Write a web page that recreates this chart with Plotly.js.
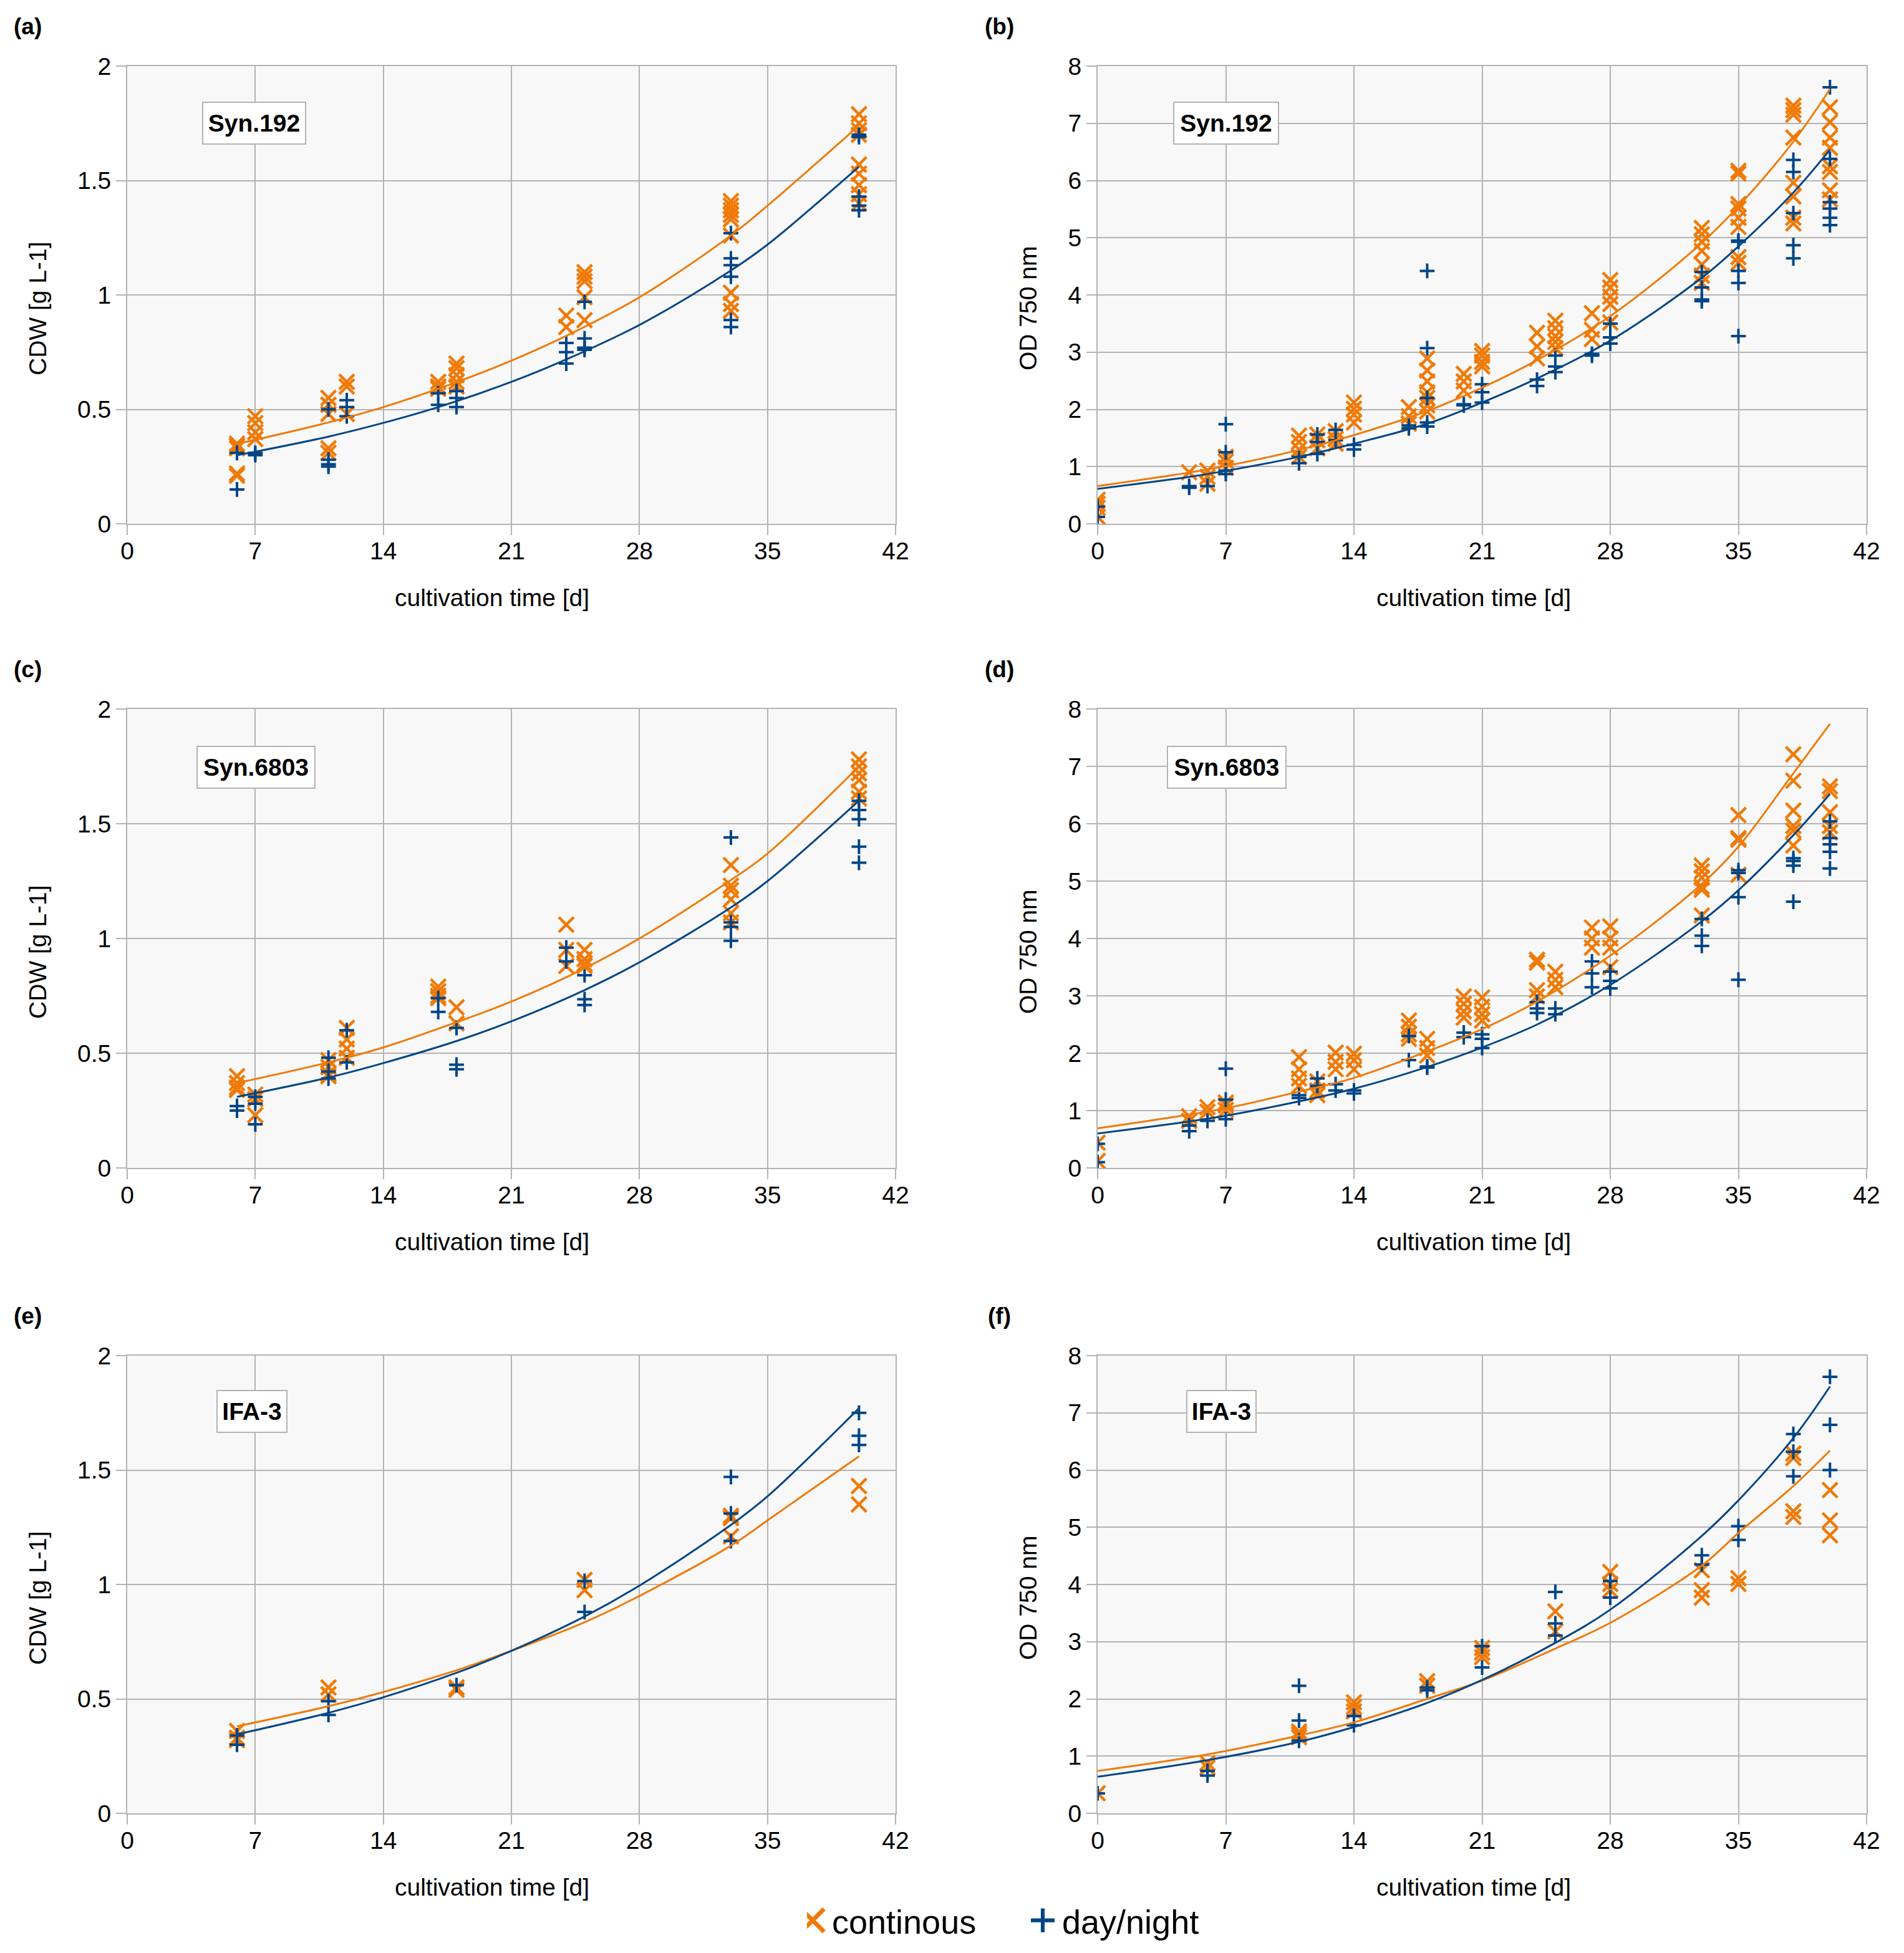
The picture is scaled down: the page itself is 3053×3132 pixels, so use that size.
<!DOCTYPE html>
<html><head><meta charset="utf-8">
<script src="https://cdn.plot.ly/plotly-3.0.1.min.js"></script>
<style>html,body{margin:0;padding:0;background:#fff}</style>
</head><body><div id="chart" style="width:3053px;height:3132px"></div>
<script>
// ---------- DATA ----------
const xTicks = [0, 7, 14, 21, 28, 35, 42];
const seriesNames = ['continous', 'day/night'];
const panelLetters = ['(a)', '(b)', '(c)', '(d)', '(e)', '(f)'];
const strainNames = ['Syn.192', 'Syn.192', 'Syn.6803', 'Syn.6803', 'IFA-3', 'IFA-3'];
const yTitles = ['CDW [g L-1]', 'OD 750 nm'];
const xTitle = 'cultivation time [d]';

// (a) Syn.192 CDW
const aDays = [6, 7, 11, 12, 17, 18, 24, 25, 33, 40];
const aCont = [[0.35,0.34,0.33,0.22,0.21],[0.47,0.44,0.40,0.37],[0.55,0.52,0.48,0.33,0.31],[0.62,0.60,0.48],[0.62,0.60,0.59],[0.70,0.68,0.65,0.62,0.60],[0.91,0.86],[1.10,1.08,1.06,0.99,0.89],[1.41,1.39,1.37,1.35,1.33,1.26,1.01,0.96,0.93],[1.79,1.75,1.72,1.70,1.57,1.53,1.48,1.44,1.40]];
const aDN = [[0.31,0.15],[0.31,0.30],[0.50,0.28,0.26,0.25],[0.54,0.51,0.47],[0.57,0.52],[0.58,0.55,0.51],[0.79,0.75,0.70],[0.97,0.81,0.77,0.76],[1.27,1.16,1.13,1.08,0.89,0.86],[1.70,1.69,1.43,1.39,1.37]];
const aFitContX = [6, 7, 11, 14, 18, 21, 24, 28, 33, 35, 40];
const aFitContY = [0.35, 0.367, 0.443, 0.51, 0.619, 0.713, 0.821, 0.99, 1.26, 1.39, 1.74];
const aFitDNX = [6, 7, 11, 14, 17, 21, 24, 28, 33, 35, 40];
const aFitDNY = [0.30, 0.315, 0.381, 0.441, 0.51, 0.62, 0.718, 0.869, 1.107, 1.22, 1.56];

// (b) Syn.192 OD750
const bDays = [0, 5, 6, 7, 11, 12, 13, 14, 17, 18, 20, 21, 24, 25, 27, 28, 33, 35, 38, 40];
const bCont = [[0.42,0.35,0.28,0.12],[0.90],[0.93,0.82,0.70],[1.17,1.09,0.98],[1.54,1.43,1.30,1.17],[1.56,1.46,1.32],[1.62,1.48,1.40],[2.12,2.01,1.91,1.77],[2.04,1.88,1.75],[2.89,2.68,2.49,2.30,2.20,2.07,1.96],[2.62,2.49,2.33],[3.02,2.94,2.83,2.75],[3.34,3.10,2.89],[3.55,3.42,3.28,3.18,3.07],[3.68,3.39,3.23],[4.26,4.13,3.97,3.84,3.52],[5.17,5.06,4.93,4.77,4.53,4.34,4.21],[6.17,6.12,5.59,5.51,5.35,5.19,4.66,4.56],[7.31,7.23,7.15,6.75,5.96,5.72,5.35,5.25],[7.28,7.02,6.75,6.57,6.25,6.15,5.83,5.67]];
const bDN = [[0.30,0.12],[0.66,0.63],[0.66],[1.74,1.25,0.93,0.87],[1.17,1.06],[1.56,1.43,1.22],[1.64,1.46],[1.38,1.30],[1.72,1.67],[4.42,3.07,2.20,1.77,1.70],[2.09,2.07],[2.44,2.30,2.12],[2.52,2.41],[2.94,2.75,2.65],[2.97,2.94],[3.50,3.26,3.15],[4.40,4.13,3.92,3.89],[4.95,4.93,4.42,4.21,3.28],[6.36,6.15,5.43,4.87,4.64],[7.63,6.38,5.62,5.51,5.35,5.22]];
const bFitX = [0, 5, 7, 11, 14, 18, 21, 24, 28, 33, 35, 38, 40];
const bFitContY = [0.66, 0.895, 1.01, 1.29, 1.55, 1.97, 2.38, 2.86, 3.63, 4.91, 5.55, 6.68, 7.60];
const bFitDNY = [0.61, 0.82, 0.925, 1.17, 1.40, 1.75, 2.12, 2.54, 3.20, 4.30, 4.85, 5.79, 6.54];

// (c) Syn.6803 CDW
const cDays = [6, 7, 11, 12, 17, 18, 24, 25, 33, 40];
const cCont = [[0.40,0.37,0.35,0.34],[0.32,0.30,0.23],[0.47,0.44,0.41,0.40],[0.61,0.56,0.52,0.48],[0.79,0.77,0.75,0.74],[0.70,0.63],[1.06,0.95,0.88],[0.95,0.91,0.89,0.88],[1.32,1.23,1.21,1.17,1.11,1.07],[1.78,1.75,1.72,1.69,1.64,1.61]];
const cDN = [[0.27,0.25],[0.31,0.28,0.19],[0.48,0.42,0.39],[0.60,0.46],[0.74,0.68],[0.61,0.45,0.43],[0.96,0.90],[0.84,0.735,0.71],[1.44,1.07,1.05,0.99],[1.60,1.56,1.52,1.40,1.33]];
const cFitX = [6, 11, 14, 18, 21, 25, 28, 33, 35, 40];
const cFitContY = [0.37, 0.46, 0.525, 0.635, 0.725, 0.87, 1.00, 1.255, 1.37, 1.75];
const cFitDNY = [0.31, 0.394, 0.457, 0.553, 0.639, 0.775, 0.896, 1.135, 1.25, 1.60];

// (d) Syn.6803 OD750
const dDays = [0, 5, 6, 7, 11, 12, 13, 14, 17, 18, 20, 21, 24, 25, 27, 28, 33, 35, 38, 40];
const dCont = [[0.44,0.12],[0.90,0.82],[1.06,0.98],[1.14,1.09,1.01],[1.93,1.72,1.56,1.43],[1.51,1.35,1.27],[2.01,1.85,1.72],[1.99,1.88,1.72],[2.57,2.46,2.33,2.25],[2.25,2.09,1.96],[2.99,2.86,2.73,2.62],[2.97,2.81,2.68,2.57],[3.63,3.58,3.10,2.99],[3.42,3.28,3.15],[4.19,4.00,3.84],[4.21,4.00,3.84,3.50],[5.27,5.17,5.06,4.90,4.85,4.40],[6.15,5.75,5.72,5.11],[7.21,6.75,6.23,5.96,5.88,5.62],[6.65,6.57,6.20,5.96,5.85]];
const dDN = [[0.42,0.10],[0.74,0.64],[0.82],[1.73,1.19,0.85],[1.27,1.22],[1.56,1.43],[1.46,1.35],[1.35,1.30],[2.30,1.88],[1.77,1.75],[2.36,2.28],[2.33,2.25,2.09],[2.89,2.78,2.70],[2.78,2.68],[3.60,3.39,3.15],[3.42,3.26,3.13],[4.34,4.05,3.87],[5.19,5.14,4.72,3.28],[5.40,5.35,5.27,4.64],[6.04,5.75,5.64,5.51,5.22]];
const dFitX = [0, 5, 7, 11, 14, 18, 21, 24, 28, 33, 35, 38, 40];
const dFitContY = [0.69, 0.93, 1.04, 1.33, 1.57, 2.03, 2.42, 2.90, 3.70, 4.95, 5.60, 6.88, 7.74];
const dFitDNY = [0.60, 0.81, 0.91, 1.16, 1.38, 1.76, 2.10, 2.50, 3.19, 4.30, 4.84, 5.80, 6.52];

// (e) IFA-3 CDW
const eDays = [6, 11, 18, 25, 33, 40];
const eCont = [[0.36,0.33,0.32],[0.55,0.52],[0.55,0.54],[1.02,0.975],[1.30,1.29,1.21],[1.43,1.35]];
const eDN = [[0.34,0.30],[0.49,0.43],[0.56],[1.015,0.88],[1.47,1.31,1.19],[1.75,1.65,1.61]];
const eFitX = [6, 11, 14, 18, 21, 25, 28, 33, 35, 40];
const eFitContY = [0.38, 0.468, 0.53, 0.625, 0.71, 0.835, 0.95, 1.17, 1.28, 1.56];
const eFitDNY = [0.345, 0.439, 0.507, 0.614, 0.71, 0.86, 0.995, 1.26, 1.385, 1.77];

// (f) IFA-3 OD750
const fDays = [0, 6, 11, 14, 18, 21, 25, 28, 33, 35, 38, 40];
const fCont = [[0.35],[0.88,0.80],[1.43,1.38,1.33],[1.94,1.86,1.78],[2.31,2.23],[2.89,2.81,2.73],[3.53,3.18],[4.22,4.01,3.90],[4.25,3.90,3.77],[4.11,4.01],[6.29,6.21,5.28,5.18],[5.65,5.12,4.86]];
const fDN = [[0.35],[0.74,0.66],[2.23,1.62,1.27],[1.70,1.54],[2.20,2.15],[2.92,2.55],[3.87,3.32,3.11],[4.06,3.77],[4.51,4.35],[5.02,4.78],[6.63,6.32,5.89],[7.63,6.79,6.00]];
const fFitX = [0, 6, 11, 14, 18, 21, 25, 28, 33, 35, 38, 40];
const fFitContY = [0.74, 1.03, 1.36, 1.59, 2.00, 2.32, 2.88, 3.33, 4.33, 4.90, 5.72, 6.34];
const fFitDNY = [0.64, 0.93, 1.25, 1.51, 1.93, 2.33, 2.98, 3.56, 4.85, 5.47, 6.56, 7.46];

// ---------- STYLE / LAYOUT ----------
const W = 3053, H = 3132;
const ORANGE = '#f07a08', BLUE = '#004586', GRID = '#b3b3b3';
const FONT = 'Liberation Sans, Arial, sans-serif';
const cols = [[204, 1436], [1760, 2993]];
const rows = [[106, 840], [1137, 1873], [2174, 2908]];

function flat(days, vals) {
  const x = [], y = [];
  days.forEach((d, i) => vals[i].forEach(v => { x.push(d); y.push(v); }));
  return {x, y};
}

const panels = [
  {days: aDays, cont: aCont, dn: aDN, fcx: aFitContX, fcy: aFitContY, fdx: aFitDNX, fdy: aFitDNY, ymax: 2},
  {days: bDays, cont: bCont, dn: bDN, fcx: bFitX, fcy: bFitContY, fdx: bFitX, fdy: bFitDNY, ymax: 8},
  {days: cDays, cont: cCont, dn: cDN, fcx: cFitX, fcy: cFitContY, fdx: cFitX, fdy: cFitDNY, ymax: 2},
  {days: dDays, cont: dCont, dn: dDN, fcx: dFitX, fcy: dFitContY, fdx: dFitX, fdy: dFitDNY, ymax: 8},
  {days: eDays, cont: eCont, dn: eDN, fcx: eFitX, fcy: eFitContY, fdx: eFitX, fdy: eFitDNY, ymax: 2},
  {days: fDays, cont: fCont, dn: fDN, fcx: fFitX, fcy: fFitContY, fdx: fFitX, fdy: fFitDNY, ymax: 8}
];

const boxW = [167, 170, 191, 192, 114, 113];
const boxCY = [197, 197, 1230, 1230, 2263, 2263];
const boxCX = [408, 1966, 410, 1967, 404, 1958];

const px = x => x / W, py = y => 1 - y / H;

const traces = [];
const layout = {
  width: W, height: H,
  margin: {l: 0, r: 0, t: 0, b: 0},
  paper_bgcolor: '#ffffff', plot_bgcolor: '#f8f8f8',
  font: {family: FONT, size: 39, color: '#000'},
  showlegend: true,
  legend: {orientation: 'h', x: px(1294), xanchor: 'left', y: py(3080), yanchor: 'middle',
           font: {size: 54, family: FONT, color: '#000'}, bgcolor: 'rgba(0,0,0,0)',
           entrywidth: 324, borderwidth: 0},
  annotations: []
};

panels.forEach((p, i) => {
  const col = i % 2, row = Math.floor(i / 2);
  const sfx = i === 0 ? '' : String(i + 1);
  const xa = 'x' + sfx, ya = 'y' + sfx;
  const axCommon = {
    showgrid: true, gridcolor: GRID, gridwidth: 2,
    showline: true, linecolor: GRID, linewidth: 2, mirror: true,
    ticks: 'outside', ticklen: 16, tickwidth: 2, tickcolor: GRID,
    tickfont: {size: 39, family: FONT, color: '#000'},
    zeroline: false, fixedrange: true
  };
  layout['xaxis' + sfx] = Object.assign({}, axCommon, {
    domain: [px(cols[col][0]), px(cols[col][1])], range: [0, 42],
    tickmode: 'array', tickvals: xTicks, ticktext: xTicks.map(String), anchor: ya,
    ticklabelstandoff: -8
  });
  layout['yaxis' + sfx] = Object.assign({}, axCommon, {
    domain: [py(rows[row][1]), py(rows[row][0])], range: [0, p.ymax],
    dtick: p.ymax === 2 ? 0.5 : 1, tick0: 0, anchor: xa
  });

  const c = flat(p.days, p.cont), d = flat(p.days, p.dn);
  traces.push({type: 'scatter', mode: 'markers', x: c.x, y: c.y, xaxis: xa, yaxis: ya,
    name: seriesNames[0], legendgroup: 'c', showlegend: i === 0,
    marker: {symbol: 'x-thin-open', size: 24, color: ORANGE, line: {color: ORANGE, width: 4.5}}});
  traces.push({type: 'scatter', mode: 'markers', x: d.x, y: d.y, xaxis: xa, yaxis: ya,
    name: seriesNames[1], legendgroup: 'd', showlegend: i === 0,
    marker: {symbol: 'cross-thin-open', size: 17, color: BLUE, line: {color: BLUE, width: 4}}});
  traces.push({type: 'scatter', mode: 'lines', x: p.fcx, y: p.fcy, xaxis: xa, yaxis: ya,
    showlegend: false, hoverinfo: 'skip', line: {color: ORANGE, width: 3, shape: 'spline', smoothing: 1}});
  traces.push({type: 'scatter', mode: 'lines', x: p.fdx, y: p.fdy, xaxis: xa, yaxis: ya,
    showlegend: false, hoverinfo: 'skip', line: {color: BLUE, width: 3, shape: 'spline', smoothing: 1}});

  // panel letter
  layout.annotations.push({xref: 'paper', yref: 'paper', x: px(col === 0 ? 44 : 1602), y: py(rows[row][0] - 64),
    xanchor: 'center', yanchor: 'middle', showarrow: false,
    text: '<b>' + panelLetters[i] + '</b>', font: {size: 37, family: FONT, color: '#000'}});
  // strain box
  layout.annotations.push({xref: 'paper', yref: 'paper', x: px(boxCX[i]), y: py(boxCY[i]),
    xanchor: 'center', yanchor: 'middle', showarrow: false,
    text: '<b>' + strainNames[i] + '</b>', font: {size: 39, family: FONT, color: '#000'},
    bgcolor: '#ffffff', bordercolor: GRID, borderwidth: 2, borderpad: 0,
    width: boxW[i] - 4, height: 65, align: 'center', valign: 'middle'});
  // y title
  layout.annotations.push({xref: 'paper', yref: 'paper', x: px(col === 0 ? 60 : 1648),
    y: py((rows[row][0] + rows[row][1]) / 2 + 22), xanchor: 'center', yanchor: 'middle',
    showarrow: false, textangle: -90, text: yTitles[col], font: {size: 39, family: FONT, color: '#000'}});
  // x title
  layout.annotations.push({xref: 'paper', yref: 'paper', x: px(col === 0 ? 789 : 2363),
    y: py(rows[row][1] + 118), xanchor: 'center', yanchor: 'middle',
    showarrow: false, text: xTitle, font: {size: 39, family: FONT, color: '#000'}});
});

Plotly.newPlot('chart', traces, layout, {staticPlot: true, displayModeBar: false}).then(() => {
  const items = document.querySelectorAll('.legend .traces');
  items.forEach((item, k) => {
    const scale = k === 0 ? 2.3 : 1.7;
    const sw = k === 0 ? 3 : 3.6;
    item.querySelectorAll('.legendpoints path.scatterpts').forEach(el => {
      el.setAttribute('transform', 'translate(9,0) scale(' + scale + ')');
      el.style.strokeWidth = sw + 'px';
    });
  });
});
</script></body></html>
